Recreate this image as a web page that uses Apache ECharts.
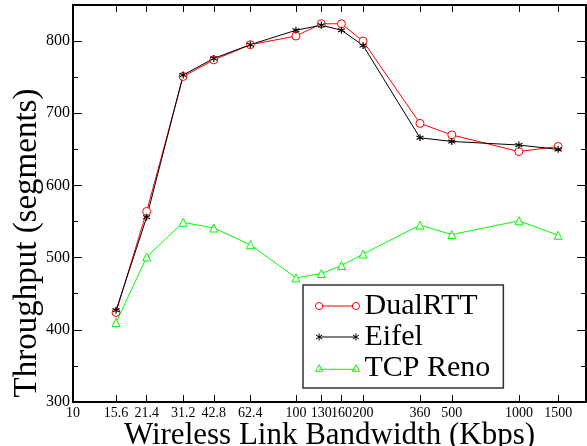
<!DOCTYPE html>
<html><head><meta charset="utf-8">
<script src="https://cdn.jsdelivr.net/npm/echarts@6/dist/echarts.min.js"></script>
<style>html,body{margin:0;padding:0;background:#fff}#c{width:587px;height:446px}</style>
</head><body><div id="c"></div><script>
const bandwidth = [15.6, 21.4, 31.2, 42.8, 62.4, 100, 130, 160, 200, 360, 500, 1000, 1500];
const dualRTT = [424, 564, 751, 774, 795, 807, 824, 824, 800, 686, 670, 647, 654];
const eifel = [427, 556, 753, 776, 795, 815, 822, 815, 794, 666, 661, 656, 650];
const tcpReno = [410, 501, 549, 541, 518, 472, 478, 489, 505, 545, 532, 551, 531];
const xTicks = [10, 15.6, 21.4, 31.2, 42.8, 62.4, 100, 130, 160, 200, 360, 500, 1000, 1500];
const yMajor = [300, 400, 500, 600, 700, 800];
const yMinor = [350, 450, 550, 650, 750];

const FONT = 'Liberation Serif';
const pairs = ys => bandwidth.map((x, i) => [x, ys[i]]);
const fmtX = v => String(+(+v).toPrecision(6));

function xAxisDef(pos, labels) {
  return {
    type: 'log', logBase: 10, min: 10, max: 2000, position: pos,
    axisLine: { show: true, lineStyle: { color: '#000', width: 2 } },
    axisTick: { show: true, inside: true, length: 7, customValues: xTicks, lineStyle: { color: '#000', width: 1 } },
    axisLabel: { show: labels, customValues: xTicks, formatter: fmtX, fontFamily: FONT, fontSize: 14, color: '#000', margin: 4, hideOverlap: false },
    minorTick: { show: false }, splitLine: { show: false },
    name: labels ? 'Wireless Link Bandwidth (Kbps)' : '',
    nameLocation: 'middle', nameGap: 18, nameMoveOverlap: false,
    nameTextStyle: { fontFamily: FONT, fontSize: 31, color: '#000' }
  };
}
function yAxisDef(pos, vals, len, labels) {
  return {
    type: 'value', min: 300, max: 850, position: pos,
    axisLine: { show: true, lineStyle: { color: '#000', width: 2 } },
    axisTick: { show: true, inside: true, length: len, customValues: vals, lineStyle: { color: '#000', width: 1 } },
    axisLabel: { show: labels, customValues: vals, fontFamily: FONT, fontSize: 16, color: '#000', margin: 3 },
    splitLine: { show: false }
  };
}

const circleIcon = 'path://M0.5,4A3.5,3.5 0 1,1 7.5,4A3.5,3.5 0 1,1 0.5,4ZM7.5,4L36.5,4M36.5,4A3.5,3.5 0 1,1 43.5,4A3.5,3.5 0 1,1 36.5,4Z';
const starIcon = 'path://M4,0.5L4,7.5M1,2L7,6M1,6L7,2M4,4L40,4M40,0.5L40,7.5M37,2L43,6M37,6L43,2M0.5,0.5L0.5,0.5M43.5,7.5L43.5,7.5';
const triIcon = 'path://M4,0.5L7.5,7L0.5,7ZM4,5L40,5M40,0.5L43.5,7L36.5,7Z';
const starSym = 'path://M0,-4L0,4M-3.5,-2L3.5,2M-3.5,2L3.5,-2';

const chart = echarts.init(document.getElementById('c'), null, { renderer: 'canvas' });
chart.setOption({
  animation: false,
  backgroundColor: '#fff',
  grid: { left: 73, right: 1, top: 5, bottom: 44, containLabel: false, outerBoundsMode: 'none' },
  xAxis: [xAxisDef('bottom', true), xAxisDef('top', false)],
  yAxis: [
    yAxisDef('left', yMajor, 9, true),
    yAxisDef('left', yMinor, 5, false),
    yAxisDef('right', yMajor, 9, false),
    yAxisDef('right', yMinor, 5, false)
  ],
  graphic: [{
    type: 'text', x: 27, y: 243, rotation: Math.PI / 2,
    style: { text: 'Throughput (segments)', font: '33px "Liberation Serif"', fill: '#000', align: 'center', verticalAlign: 'middle' }
  }],
  legend: {
    orient: 'vertical', left: 303, top: 285, padding: [6, 13, 5, 10],
    borderColor: '#333', borderWidth: 1.5, backgroundColor: '#fff',
    itemWidth: 44, itemHeight: 8, itemGap: 1, selectedMode: false,
    textStyle: { fontFamily: FONT, fontSize: 30, color: '#000', lineHeight: 30 },
    data: [
      { name: 'DualRTT', icon: circleIcon, itemStyle: { color: 'none', borderColor: '#ff0000', borderWidth: 1 } },
      { name: 'Eifel', icon: starIcon, itemStyle: { color: 'none', borderColor: '#000', borderWidth: 1 } },
      { name: 'TCP Reno', icon: triIcon, itemStyle: { color: 'none', borderColor: '#00ff00', borderWidth: 1 } }
    ]
  },
  series: [
    { name: 'DualRTT', type: 'line', data: pairs(dualRTT), symbol: 'circle', symbolSize: 8,
      lineStyle: { color: '#ff0000', width: 1 }, itemStyle: { color: '#fff', borderColor: '#ff0000', borderWidth: 1 } },
    { name: 'Eifel', type: 'line', data: pairs(eifel), symbol: starSym, symbolSize: 7,
      lineStyle: { color: '#000', width: 1 }, itemStyle: { color: '#000', borderColor: '#000', borderWidth: 1.2 } },
    { name: 'TCP Reno', type: 'line', data: pairs(tcpReno), symbol: 'triangle', symbolSize: 8,
      lineStyle: { color: '#00ff00', width: 1 }, itemStyle: { color: '#fff', borderColor: '#00ff00', borderWidth: 1 } }
  ]
});
</script></body></html>
